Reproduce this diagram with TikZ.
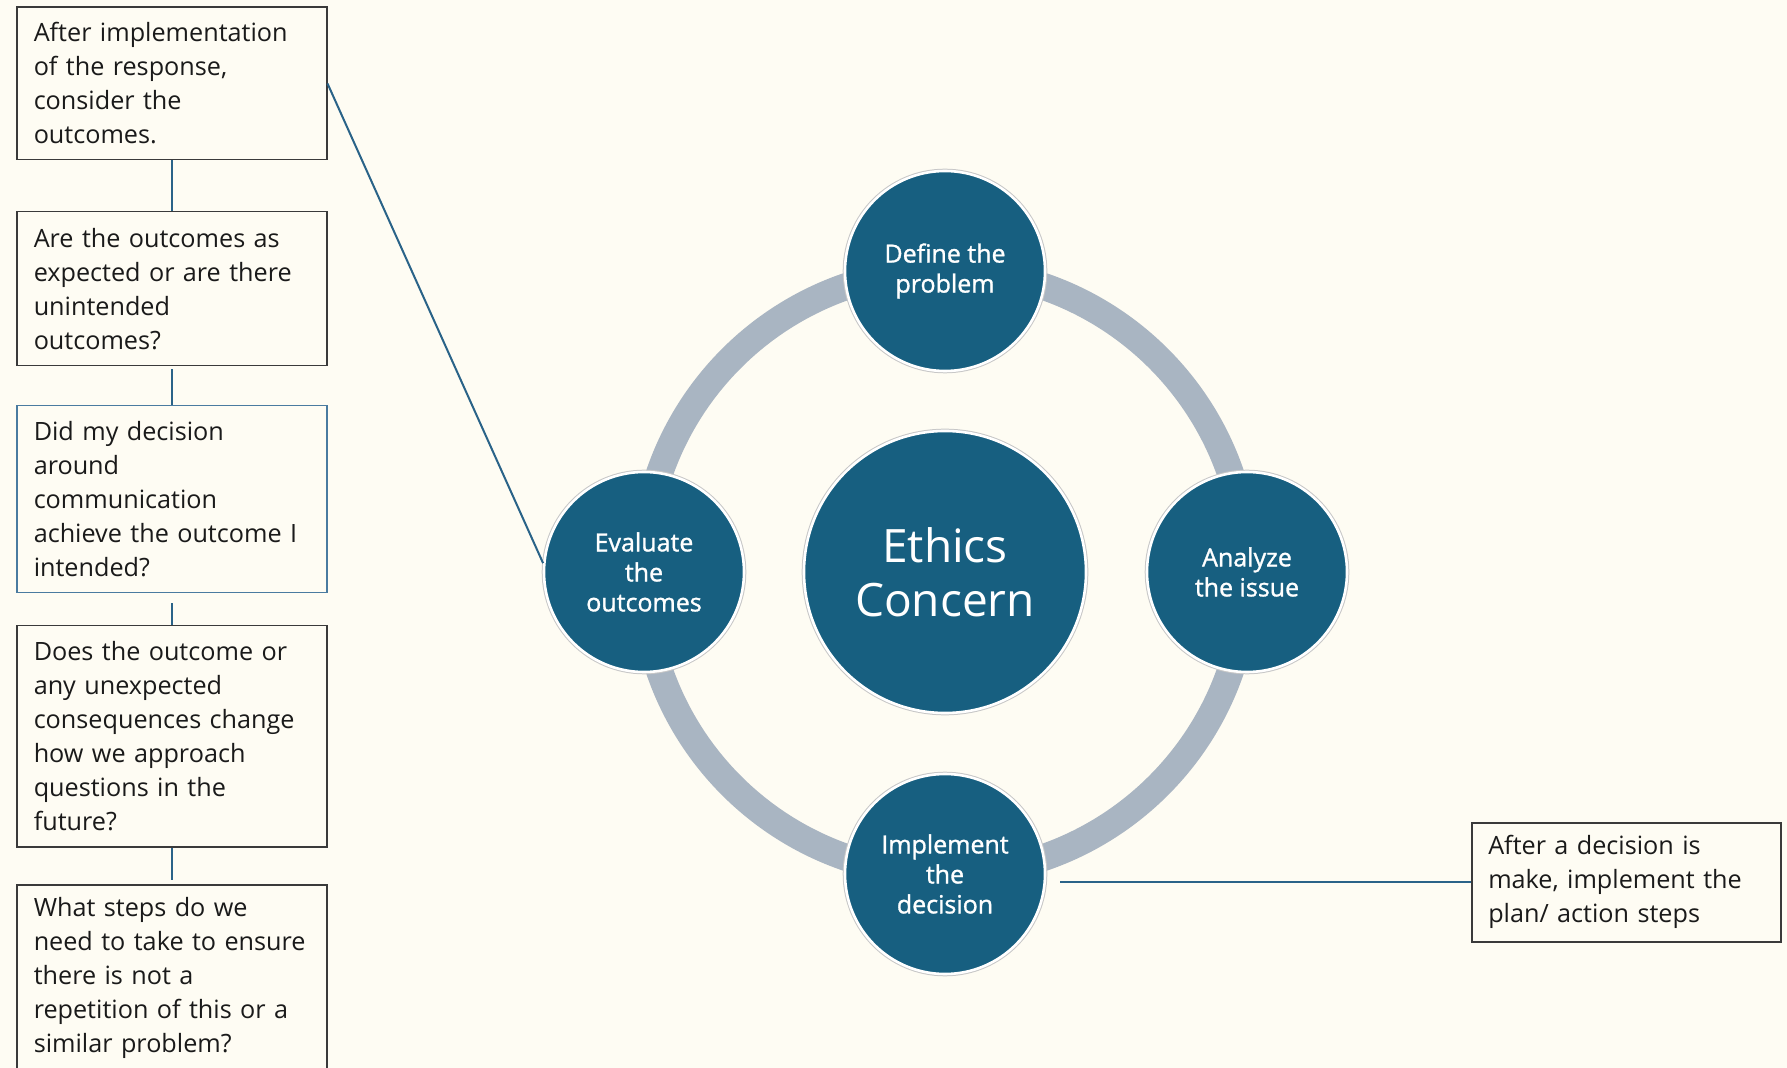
\documentclass[tikz,border=0pt]{standalone}
\usepackage{fontspec}
\setmainfont{Open Sans}
\newfontfamily\circfont{Open Sans}[FakeBold=1.2]
\definecolor{bg}{HTML}{FEFCF3}
\definecolor{circfill}{HTML}{175F80}
\definecolor{ringc}{HTML}{A9B5C2}
\definecolor{linkc}{HTML}{2A6388}
\definecolor{boxline}{HTML}{3A3A3A}
\definecolor{boxblue}{HTML}{4A7BA0}
\definecolor{txt}{HTML}{1A1A1A}
\begin{document}
\begin{tikzpicture}[x=0.5pt,y=-0.5pt,
  qbox/.style={draw=boxline, line width=0.75pt, fill=bg, anchor=north west,
    text width=138pt, inner xsep=8.5pt, inner ysep=0pt, minimum width=155pt,
    align=left, font=\fontsize{12.6}{17}\selectfont, text=txt},
  stage/.style={circle, fill=circfill, draw=white, line width=1.3pt,
    preaction={draw=black!22, line width=2.3pt},
    minimum size=100pt, inner sep=0pt, text=white, align=center,
    font=\circfont\fontsize{12.5}{15}\selectfont},
  link/.style={draw=linkc, line width=1pt},
]
\fill[bg] (0,0) rectangle (1787,1068);
\useasboundingbox (0,0) rectangle (1787,1068);
\begin{scope}
\clip (0,0) rectangle (1787,1068);
% ring
\draw[ringc, line width=13.5pt] (945,572) circle [radius=151pt];
% circles
\node[stage, minimum size=141pt, font=\fontsize{23}{27}\selectfont] (main) at (945,572) {Ethics\\Concern};
\node[stage] (define) at (945,271) {Define the\\problem};
\node[stage] (analyze) at (1247,572) {Analyze\\the issue};
\node[stage] (impl) at (945,874) {Implement\\the\\decision};
\node[stage] (eval) at (644,572) {Evaluate\\the\\outcomes};
% left question boxes
\node[qbox, minimum height=76.25pt] (b1) at (16,6.5) {After implementation\\of the response,\\consider the\\outcomes.};
\node[qbox, minimum height=77pt] (b2) at (16,211) {Are the outcomes as\\expected or are there\\unintended\\outcomes?};
\node[qbox, draw=boxblue, minimum height=93.5pt] (b3) at (16,405) {Did my decision\\around\\communication\\achieve the outcome I\\intended?};
\node[qbox, minimum height=110.5pt] (b4) at (16,625) {Does the outcome or\\any unexpected\\consequences change\\how we approach\\questions in the\\future?};
\node[qbox, minimum height=93pt] (b5) at (16,884) {What steps do we\\need to take to ensure\\there is not a\\repetition of this or a\\similar problem?};
% right box
\node[qbox, minimum width=154.5pt, text width=138pt, inner xsep=8pt, minimum height=59.5pt] (rb) at (1471,822) {After a decision is\\make, implement the\\plan/ action steps};
% connectors
\draw[link] (b1.south) -- (b2.north);
\draw[link] ([yshift=-1.5pt]b2.south) -- (b3.north);
\draw[link] ([yshift=-5pt]b3.south) -- (b4.north);
\draw[link] (b4.south) -- ([yshift=2pt]b5.north);
\draw[link] (b1.east) -- (eval.175);
\coordinate (cs) at (1060,881.5);
\draw[link] (cs) -- (cs -| rb.west);
\end{scope}
\end{tikzpicture}
\end{document}
